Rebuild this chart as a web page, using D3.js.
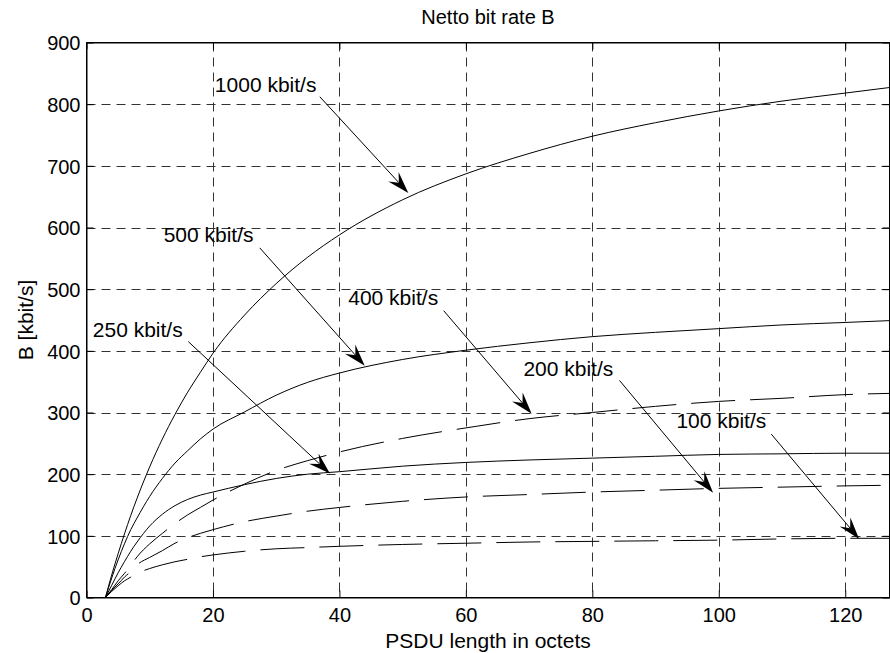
<!DOCTYPE html>
<html>
<head>
<meta charset="utf-8">
<script src="https://cdn.jsdelivr.net/npm/d3@7"></script>
<style>
  body { margin: 0; background: #fff; }
  text { font-family: "Liberation Sans", Arial, Helvetica, sans-serif; fill: #000; }
</style>
</head>
<body>
<div id="chart"></div>
<script>
// PSDU length in octets (x positions of the read values)
const psduLength = [3, 4, 5, 6, 7, 8, 10, 12, 14, 16, 18, 20, 25, 30, 35, 40, 50, 60, 70, 80, 90, 100, 110, 120, 127];

// netto bit rate B [kbit/s]
const rate1000 = [0, 37, 71, 103, 133, 161, 212, 257, 297, 333, 365, 396, 458, 509, 552, 588, 645, 687, 720, 748, 770, 789, 805, 818, 827];
const rate500 = [0, 32, 61, 87, 110, 129, 164, 193, 218, 238, 257, 273, 301, 328, 349, 364, 386, 401, 413, 423, 430, 436, 442, 446, 449];
const rate250 = [0, 20, 40, 58, 75, 90, 116, 135, 149, 159, 166, 171, 183, 193, 200, 204, 213, 219, 223, 226, 229, 232, 233, 234, 234];
const rate400 = [0, 13, 27, 39, 52, 66, 87, 104, 120, 134, 146, 158, 184, 206, 222, 236, 258, 275, 290, 300, 310, 318, 323, 329, 331];
const rate200 = [0, 12, 22, 33, 42, 53, 65, 76, 88, 97, 104, 110, 123, 132, 140, 146, 156, 163, 167, 171, 174, 177, 179, 181, 182];
const rate100 = [0, 10, 19, 27, 33, 39, 47, 53, 58, 62, 66, 69, 75, 79, 81, 83, 86, 88, 90, 91, 92, 93, 95, 96, 96];

const seriesValues = [rate1000, rate500, rate250, rate400, rate200, rate100];
const seriesDashed = [false, false, false, true, true, true];

const xTicks = [0, 20, 40, 60, 80, 100, 120];
const yTicks = [0, 100, 200, 300, 400, 500, 600, 700, 800, 900];

// annotation: label anchor, arrow start, arrow tip (data units)
const labelText = ["1000 kbit/s", "500 kbit/s", "250 kbit/s", "400 kbit/s", "200 kbit/s", "100 kbit/s"];
const labelAt = [[20.3, 820], [12.2, 576], [1.0, 423], [41.4, 475], [69.1, 360], [93.3, 275]];
const arrowFrom = [[36.9, 812], [27.4, 567], [16.1, 415], [56.5, 465], [84.3, 352], [108.3, 265]];
const arrowTo = [[50.9, 656], [44.0, 376], [38.5, 201], [70.4, 298], [99.1, 170], [122.2, 95]];

const width = 890, height = 653;
const plot = { left: 86.5, right: 889.5, top: 42.5, bottom: 597.5 };

const svg = d3.select("#chart")
  .append("svg")
  .attr("width", width)
  .attr("height", height);

const x = d3.scaleLinear().domain([0, 127]).range([plot.left, plot.right]);
const y = d3.scaleLinear().domain([0, 900]).range([plot.bottom, plot.top]);

// grid
const grid = svg.append("g")
  .attr("stroke", "#333")
  .attr("stroke-width", 1)
  .attr("stroke-dasharray", "9,6");

grid.selectAll(".gx")
  .data(xTicks.filter(d => d > 0))
  .join("line")
  .attr("x1", d => Math.round(x(d)) + 0.5)
  .attr("x2", d => Math.round(x(d)) + 0.5)
  .attr("y1", plot.top)
  .attr("y2", plot.bottom);

grid.selectAll(".gy")
  .data(yTicks.filter(d => d > 0 && d < 900))
  .join("line")
  .attr("y1", d => Math.round(y(d)) + 0.5)
  .attr("y2", d => Math.round(y(d)) + 0.5)
  .attr("x1", plot.left)
  .attr("x2", plot.right);

// axes with inward ticks
const xAxis = d3.axisBottom(x).tickValues(xTicks).tickSizeInner(-7).tickSizeOuter(0).tickPadding(10.5);
const yAxis = d3.axisLeft(y).tickValues(yTicks).tickSizeInner(-7).tickSizeOuter(0).tickPadding(6);

const gx = svg.append("g")
  .attr("transform", "translate(0," + plot.bottom + ")")
  .call(xAxis);
const gy = svg.append("g")
  .attr("transform", "translate(" + plot.left + ",0)")
  .call(yAxis);

svg.append("g")
  .attr("transform", "translate(0," + plot.top + ")")
  .call(d3.axisTop(x).tickValues(xTicks).tickSizeInner(-7).tickSizeOuter(0).tickFormat(""));
svg.append("g")
  .attr("transform", "translate(" + plot.right + ",0)")
  .call(d3.axisRight(y).tickValues(yTicks).tickSizeInner(-7).tickSizeOuter(0).tickFormat(""));

svg.selectAll(".domain").attr("stroke", "#000");
svg.selectAll(".tick line").attr("stroke", "#000");
svg.selectAll(".tick text")
  .style("font-family", "'Liberation Sans', Arial, sans-serif")
  .style("font-size", "20px")
  .attr("fill", "#000");
gy.selectAll(".tick text").attr("dy", "0.36em");

// curves
const line = d3.line()
  .curve(d3.curveMonotoneX)
  .x((d, i) => x(psduLength[i]))
  .y(d => y(d));

svg.append("g")
  .selectAll("path")
  .data(seriesValues)
  .join("path")
  .attr("d", d => line(d))
  .attr("fill", "none")
  .attr("stroke", "#000")
  .attr("stroke-width", 1)
  .attr("stroke-dasharray", (d, i) => seriesDashed[i] ? "44,15" : null)
  .attr("stroke-dashoffset", (d, i) => seriesDashed[i] ? 11 : null);

// annotations with arrows
const notes = svg.append("g");
labelText.forEach((t, i) => {
  notes.append("text")
    .attr("x", x(labelAt[i][0]))
    .attr("y", y(labelAt[i][1]))
    .style("font-size", "21px")
    .text(t);

  const x0 = x(arrowFrom[i][0]), y0 = y(arrowFrom[i][1]);
  const x1 = x(arrowTo[i][0]), y1 = y(arrowTo[i][1]);
  const a = Math.atan2(y1 - y0, x1 - x0);
  const len = 22, half = 7, notch = 14;
  const ux = Math.cos(a), uy = Math.sin(a);
  const px = -uy, py = ux;

  notes.append("line")
    .attr("x1", x0).attr("y1", y0)
    .attr("x2", x1 - ux * notch).attr("y2", y1 - uy * notch)
    .attr("stroke", "#000")
    .attr("stroke-width", 1);

  const head = [
    [x1, y1],
    [x1 - ux * len + px * half, y1 - uy * len + py * half],
    [x1 - ux * notch, y1 - uy * notch],
    [x1 - ux * len - px * half, y1 - uy * len - py * half]
  ];
  notes.append("path")
    .attr("d", "M" + head.map(p => p.join(",")).join("L") + "Z")
    .attr("fill", "#000");
});

// plot frame
svg.append("rect")
  .attr("x", plot.left)
  .attr("y", plot.top)
  .attr("width", plot.right - plot.left)
  .attr("height", plot.bottom - plot.top)
  .attr("fill", "none")
  .attr("stroke", "#000");

// titles
svg.append("text")
  .attr("x", (plot.left + plot.right) / 2)
  .attr("y", 24)
  .attr("text-anchor", "middle")
  .style("font-size", "20px")
  .text("Netto bit rate B");

svg.append("text")
  .attr("x", (plot.left + plot.right) / 2)
  .attr("y", 648)
  .attr("text-anchor", "middle")
  .style("font-size", "21px")
  .text("PSDU length in octets");

svg.append("text")
  .attr("transform", "translate(33," + (plot.top + plot.bottom) / 2 + ") rotate(-90)")
  .attr("text-anchor", "middle")
  .style("font-size", "21px")
  .text("B [kbit/s]");
</script>
</body>
</html>
